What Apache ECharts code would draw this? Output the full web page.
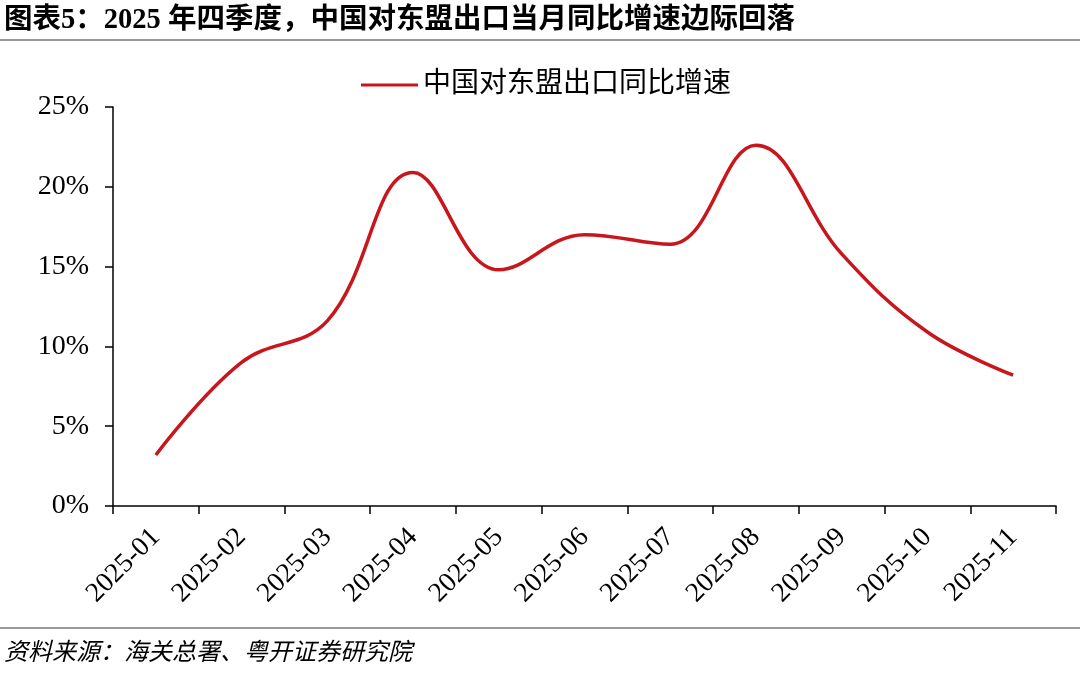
<!DOCTYPE html>
<html>
<head>
<meta charset="utf-8">
<script src="https://cdn.jsdelivr.net/npm/echarts@6/dist/echarts.min.js"></script>
<style>
html,body{margin:0;padding:0;background:#fff;}
#c{width:1080px;height:673px;}
</style>
</head>
<body>
<div id="c"></div>
<script>
const titleText = '图表5：2025 年四季度，中国对东盟出口当月同比增速边际回落';
const sourceText = '资料来源：海关总署、粤开证券研究院';
const seriesName = '中国对东盟出口同比增速';
const categories = ['2025-01','2025-02','2025-03','2025-04','2025-05','2025-06','2025-07','2025-08','2025-09','2025-10','2025-11'];
const values = [3.2, 9.0, 11.6, 20.9, 14.8, 17.0, 16.4, 22.6, 15.8, 10.9, 8.2];
const yTicks = [0, 5, 10, 15, 20, 25];

const serif = '"Liberation Serif", "Times New Roman", "Noto Sans CJK SC", serif';
const cjk = '"Liberation Serif", "Noto Sans CJK SC", serif';

const chart = echarts.init(document.getElementById('c'), null, {renderer: 'canvas'});
chart.setOption({
  backgroundColor: '#fff',
  animation: false,
  graphic: [
    {type: 'text', left: 4, top: 6, style: {text: titleText, font: 'bold 28.5px ' + cjk, fill: '#000'}},
    {type: 'line', shape: {x1: 0, y1: 40, x2: 1080, y2: 40}, style: {stroke: '#999', lineWidth: 2}},
    {type: 'line', shape: {x1: 0, y1: 628, x2: 1080, y2: 628}, style: {stroke: '#999', lineWidth: 2}},
    {type: 'text', left: 4, top: 642, style: {text: sourceText, font: 'italic 24px ' + cjk, fill: '#000'}}
  ],
  legend: {
    top: 66,
    left: 356,
    itemWidth: 57,
    itemHeight: 3,
    itemGap: 8,
    icon: 'rect',
    textStyle: {fontFamily: cjk, fontSize: 28, color: '#000'},
    data: [seriesName]
  },
  grid: {left: 113, right: 24, top: 107, bottom: 167, containLabel: false},
  xAxis: {
    type: 'category',
    data: categories,
    boundaryGap: true,
    axisLine: {lineStyle: {color: '#000', width: 1.5}},
    axisTick: {show: true, length: 8, alignWithLabel: false, lineStyle: {color: '#000', width: 1.5}},
    axisLabel: {rotate: 45, margin: 27, interval: 0, fontFamily: serif, fontSize: 27.5, color: '#000'},
    splitLine: {show: false}
  },
  yAxis: {
    type: 'value',
    min: yTicks[0],
    max: yTicks[yTicks.length - 1],
    interval: 5,
    axisLine: {show: true, lineStyle: {color: '#000', width: 1.5}},
    axisTick: {show: true, inside: false, length: 8, lineStyle: {color: '#000', width: 1.5}},
    axisLabel: {margin: 24, fontFamily: serif, fontSize: 28, color: '#000', formatter: v => v + '%'},
    splitLine: {show: false}
  },
  series: [{
    name: seriesName,
    type: 'line',
    data: values,
    smooth: 0.4,
    symbol: 'none',
    lineStyle: {color: '#C8161D', width: 3.5},
    itemStyle: {color: '#C8161D'}
  }]
});
</script>
</body>
</html>
